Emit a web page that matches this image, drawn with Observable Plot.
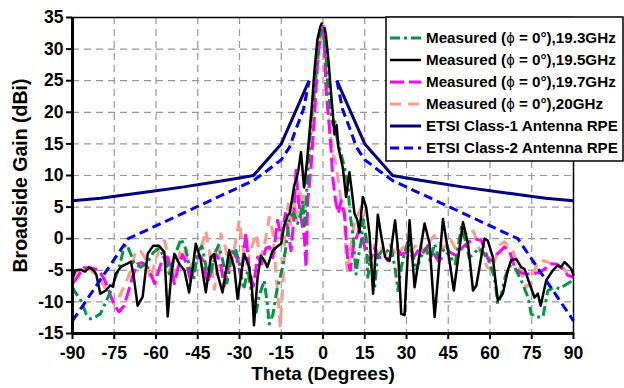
<!DOCTYPE html>
<html>
<head>
<meta charset="utf-8">
<script src="https://cdn.jsdelivr.net/npm/d3@7"></script>
<script src="https://cdn.jsdelivr.net/npm/@observablehq/plot@0.6"></script>
<style>
  body { margin: 0; background: #fff; }
  #chart { position: relative; width: 624px; height: 388px; }
</style>
</head>
<body>
<div id="chart"></div>
<script>
// Axis ticks
const xTicks = [-90, -75, -60, -45, -30, -15, 0, 15, 30, 45, 60, 75, 90];
const yTicks = [-15, -10, -5, 0, 5, 10, 15, 20, 25, 30, 35];

// Measured broadside gain, phi = 0°, 19.5 GHz
const theta195 = [-90,-89,-87,-85.5,-84,-82.5,-81.5,-80,-78,-76.5,
  -75.5,-74.5,-72.5,-70.5,-69,-68,-66.6,-64.8,-63,-61,
  -59,-57,-55.8,-54.6,-53.4,-51.6,-49.8,-48.1,-46.8,-45.7,
  -43.9,-42.1,-40.3,-39.1,-37.9,-36.1,-33.7,-31.9,-30.7,-28.3,
  -26.5,-25.5,-24.8,-23.5,-22.3,-21,-20,-18.1,-16.3,-15,
  -14,-12.7,-12,-11.2,-10.3,-9.5,-8.8,-7.9,-6.8,-5.8,
  -5,-4,-3,-2,-1,-0.3,0.5,1,2,2.9,
  3.5,4.1,4.9,5.5,6.5,7.1,8.3,9.5,10.5,11.3,
  12.3,13.1,14.3,15.5,16.7,18,19.7,20.9,22.3,23.9,
  25.9,26.9,28.1,29.3,31.1,32.9,34.5,36.5,38.3,40.1,
  43.1,44.9,47,50.3,52.1,53.9,55.1,58,59.2,61,
  62.8,64.6,66.4,67.6,69.4,71.2,72.4,74.2,76,77.2,
  78.2,80.2,82.6,84.4,85.5,86.8,88,89.2,90];
const gain195 = [-6.3,-5.0,-4.9,-5.2,-4.5,-5.0,-5.6,-8.7,-8.2,-7.4,
  -7.6,-5.6,-4.4,-4.0,-3.6,-6,-10.6,-9.2,-2.4,-1.1,
  -1.1,-2.1,-12.3,-6.1,-2.4,-4.0,-5.0,-8.5,-4.5,-0.8,
  -3.4,-8.5,-2.9,-2.4,-5.6,-8.5,-1.8,-4.5,-9.5,-2.4,
  -4.5,-8,-13.7,-6.1,-2.7,-3.5,-4.5,-1.9,-1.2,-0.8,
  2.0,3.7,4.0,6.0,8.5,9.5,11,13.7,8.1,12,
  16,21,27,31.5,33.5,34.2,33.5,32.4,28,23,
  20,16.5,18,14.5,12.5,11.3,6.6,10.5,7,4,
  3,1,6.6,5.0,0.8,-8.7,3.8,0.5,-2.9,-3.5,
  2.9,-1.5,-11.9,-12.1,2.9,-7.7,-3,2.4,-0.8,-12.4,
  3.1,-1.9,-8.2,2.6,-0.8,-8.2,-7.4,0,-0.3,-2.9,
  -9.8,-8.7,-5,-3.4,-3.2,-4.5,-4.8,-7.1,-9.3,-8.7,
  -10.6,-6.6,-5,-4.2,-4.5,-3.7,-4.2,-4.8,-5.8];

// 19.3 GHz
const theta193 = [-90,-89,-87,-85,-83.5,-81.5,-80,-78,-76,-75,
  -73.2,-71.5,-70.5,-69,-67.8,-65.5,-63,-61,-59,-57,
  -55.2,-53.5,-51,-49.3,-48,-46.5,-45,-43.5,-42,-40.5,
  -39,-37.5,-36,-34.5,-33,-31.5,-30,-28.5,-27,-25.5,
  -24.1,-23,-21.1,-19.9,-19.3,-18,-16.5,-14.5,-13.3,-12.1,
  -10.5,-9.1,-8,-7.3,-6.7,-5.5,-4.3,-2.5,-1.3,-0.4,
  0.3,0.9,1.7,2.9,3.6,4.3,5,6.5,7.7,8.9,
  9.7,10.7,11.9,12.5,13.7,14.5,15.5,16.1,17,18.5,
  19.5,21,23.3,24.5,26,26.9,28.1,30.5,32,33.5,
  35,37,38.5,40.1,41.5,43,44.5,46,47.5,49.7,
  51,52.5,54,56,58,59.5,61.6,62.8,64,65.5,
  67,68.8,71.2,73.6,74.8,76.6,79,80.8,83.2,85,
  86.8,88.6,90];
const gain193 = [-7.7,-8.5,-9.8,-12,-12.7,-12.3,-11.9,-10,-8,-6.6,
  -4.5,-1.3,-0.9,-2.5,-4.0,-4.5,-3.7,-2.2,-1.5,-2.9,
  -5.6,-3,0,-1.6,-4.5,-6.5,-2,-1.2,-4.5,-6,
  -2.5,-1.0,-3.5,-7,-3,-1.5,-4,-8,-5,-9,
  -11.9,-9.2,-6.6,-10.8,-13.5,-12,-8,-4.5,-1.3,3.4,
  4,2.4,4,6.0,2,10,18.7,26.6,31.9,33.3,
  32,29.8,24.5,19.7,18.0,18.5,16,13.4,11.3,8.7,
  4,0.8,-5.6,-3.4,-0.5,3,0,-6.1,-3,-8,
  -3,-2,-1.9,-1.3,-5,-8.2,-4.5,-0.3,-2,-5,
  -3,-1.5,-3.5,-0.8,-3,-2,-1,-3,-4,1.8,
  0,-3,-2.5,-1.5,-2.4,-3.5,-6.1,-10.3,-9,-6,
  -4.3,-4.5,-6.6,-9.2,-11.9,-12.4,-12.4,-8.2,-7.7,-7.9,
  -7.4,-6.9,-6.6];

// 19.7 GHz
const theta197 = [-90,-88.3,-86,-83.5,-80.5,-78.5,-77,-75,-73.3,-71.5,
  -70,-68.5,-66.7,-65,-63.1,-61.5,-60.5,-59,-57.5,-56,
  -54.5,-53.4,-52,-50.5,-49,-47.5,-46,-44.5,-43,-41.5,
  -40,-38.5,-37,-35.5,-34,-32.5,-31,-29.5,-27.7,-26.5,
  -25,-23.5,-22,-20.5,-19.3,-18,-16.3,-15,-13.5,-12.5,
  -11.5,-10.5,-9.7,-8.8,-7.8,-6.7,-6.1,-5.5,-4.3,-3.1,
  -1.9,-0.7,0,0.5,1.1,2.3,2.9,3.5,4.5,5.5,
  6.5,7.7,8.9,9.8,11,13.1,14.3,15.5,17,18.5,
  20,22,23.5,25,26.5,28,30.5,32.5,34.1,35.5,
  37.7,40,41.5,43.1,45.5,47.9,50.3,52.5,54.5,56.9,
  59.3,61,62.5,65.2,67,68.8,70.6,73,75.4,77.8,
  79.6,82,83.8,86.2,88,90];
const gain197 = [-7.1,-6.1,-4.6,-4.6,-5.0,-6.5,-8.2,-10.5,-11.6,-10.6,
  -8.5,-6.1,-4.0,-3.8,-4.5,-6,-7.1,-5,-3,-2.9,
  -5,-7.1,-4.5,-2.5,-4,-6.8,-4,-2.5,-3.5,-7,
  -5,-2.5,-3.5,-7.5,-4.5,-2,-3,-6,0.8,-5,
  -7.5,-2.9,-4,-1.5,-1.3,-3,2.9,0,4,1,
  -1.9,3,10.8,6,3,0.2,-4.5,6,11.3,19.2,
  28.2,33,33.8,31,23.4,17.6,14,9.7,6,4,
  6,4,-3.5,-5,-1,1.5,0,-2.5,-3.5,-1.5,
  -3,-2.9,-3.5,-2,-1.5,-2.5,-2.1,-3,-1.9,-2.5,
  -1.1,-2.5,-3.5,-2.9,-2.1,-2.7,-1.3,-0.5,0,-0.3,
  -3.2,-3.5,-2.5,-1.3,-1.9,-4.5,-5.3,-5.6,-5.6,-5.3,
  -4.8,-4.0,-4.0,-4.8,-5.8,-6.1];

// 20 GHz
const theta200 = [-90,-88,-86,-84,-82,-80,-78,-76,-75,-73.5,
  -71,-69,-67.3,-65.5,-63.7,-62,-60.5,-58.3,-57,-55.5,
  -54,-52.5,-51,-49.5,-48,-46.5,-45,-43.5,-42.1,-40.5,
  -39,-37.5,-36.7,-35,-33.5,-32,-30.1,-29,-27.5,-26,
  -24.1,-22.5,-21,-19.3,-18,-17,-16,-15.4,-14.5,-13.5,
  -12.5,-11.5,-10.5,-9.5,-8.5,-7.5,-6.5,-5.5,-4.5,-3.5,
  -2.5,-1.5,-0.5,0,0.5,1.1,1.7,2.5,3.5,4.7,
  5.5,6.5,7.7,8.3,8.9,9.8,11,12.3,13.7,14.8,
  16,17.5,18.5,19.7,21,22.5,24,25.5,27,28.5,
  30,31.5,32.9,34.5,36,37.5,39,40.1,41.3,43,
  44.5,46.1,47.5,49,50.5,52,53.3,54.4,56,57.5,
  59,60.5,62,63.5,65.2,66.4,68.2,70,71.8,73,
  74.5,76,77.5,79,80.8,82.6,84.5,86,88,90];
const gain200 = [-6.1,-5,-4.6,-4.8,-5.5,-6.5,-8,-9.5,-10.3,-9.5,
  -7.1,-5,-1.9,-2,-3.2,-6.5,-4,-0.8,-0.3,-3,
  -6,-4,-1.5,-2,-5,-3,-0.5,-1,1.3,-3,
  -8,-3,0.8,-1.5,-5.5,-2,2.9,-1,-4,-2,
  0.8,-3,-1,3.4,1,-5,-10,-13.8,-8,2,
  5.5,2,6,3,8,5,10,12,15,20,
  25,29,32.5,33.2,31,25.5,21.3,17,13.5,11.8,
  9,6,3.4,-3.4,-5.6,-2,2,3.5,5,2,
  -1,-3,-1,-2.4,-1.5,-2.5,-1,-2,-3,-1.5,
  -1,-2,-1.3,-0.5,-2,-1,0,0.5,0.2,-1.5,
  -1,-0.3,-1.5,-0.5,0.5,1,1.6,0.8,-1.5,-3,
  -4.5,-5,-3,-1,-0.5,-1.1,-1.9,-4,-6.1,-7.7,
  -7,-5,-3.5,-3.5,-3.7,-4.2,-4.5,-4.5,-5.5,-6];

// ETSI radiation pattern envelopes (two branches, main beam excluded)
const etsi1Theta = [-90,-80,-70,-60,-50,-40,-30,-25,-15,-5, 5,15,25,30,40,50,60,70,80,90];
const etsi1Gain  = [6,6.4,7,7.6,8.2,8.9,9.6,10,15,25, 25,15,10,9.6,8.9,8.2,7.6,7,6.4,6];
const etsi2Theta = [-90,-70,-25,-20,-15,-12,-10,-7,-5, 5,7,10,12,15,20,25,70,90];
const etsi2Gain  = [-13,0,9.2,10.8,12.5,14.5,17,20.5,25, 25,20.5,17,14.5,12.5,10.8,9.2,0,-13];

const rows = (t, g) => t.map((x, i) => ({theta: x, gain: g[i], side: x < 0 ? "L" : "R"}));

const series = [
  {name: "20", data: rows(theta200, gain200), stroke: "#ff9a90", width: 3, dash: "11,7"},
  {name: "19.7", data: rows(theta197, gain197), stroke: "#ff00ff", width: 3, dash: "14,5"},
  {name: "19.3", data: rows(theta193, gain193), stroke: "#009640", width: 3, dash: "10,4,3,4"},
  {name: "19.5", data: rows(theta195, gain195), stroke: "#000000", width: 2.5, dash: null},
  {name: "c1", data: rows(etsi1Theta, etsi1Gain), stroke: "#000080", width: 3, dash: null},
  {name: "c2", data: rows(etsi2Theta, etsi2Gain), stroke: "#0000ff", width: 3, dash: "9,5"}
];

const font = "'Liberation Sans', Arial, sans-serif";

const plot = Plot.plot({
  width: 624,
  height: 388,
  marginLeft: 72,
  marginRight: 51,
  marginTop: 17,
  marginBottom: 55,
  style: {fontFamily: font, fontWeight: "bold", fontSize: "17px", background: "#fff", overflow: "visible"},
  x: {domain: [-90, 90], label: null},
  y: {domain: [-15, 35], label: null},
  marks: [
    Plot.ruleX(xTicks, {stroke: "#999", strokeWidth: 1.2, strokeDasharray: "7,5"}),
    Plot.ruleY(yTicks, {stroke: "#999", strokeWidth: 1.2, strokeDasharray: "7,5"}),
    ...series.map(s => Plot.line(s.data, {
      x: "theta", y: "gain", z: "side",
      stroke: s.stroke, strokeWidth: s.width,
      strokeDasharray: s.dash ?? undefined,
      strokeLinejoin: "round", strokeLinecap: "butt"
    })),
    Plot.frame({stroke: "#000", strokeWidth: 1.5}),
    Plot.ruleX([-90], {stroke: "#000", strokeWidth: 3}),
    Plot.ruleY([-15], {stroke: "#000", strokeWidth: 3}),
    Plot.axisX(xTicks, {tickSize: 6, tickPadding: 7, tickFormat: d => String(d), fontSize: 17.5, fontWeight: "bold", strokeWidth: 2, label: null}),
    Plot.axisY(yTicks, {tickSize: 6, tickPadding: 3, tickFormat: d => String(d), fontSize: 17.5, fontWeight: "bold", strokeWidth: 2, label: null}),
    Plot.text(["Theta (Degrees)"], {frameAnchor: "bottom", dy: 46, fontSize: 19, fontWeight: "bold", fill: "#000"}),
    Plot.text(["Broadside Gain (dBi)"], {frameAnchor: "left", textAnchor: "middle", dx: -52, rotate: -90, fontSize: 19.5, fontWeight: "bold", fill: "#000"})
  ]
});

document.getElementById("chart").appendChild(plot);

// Legend box overlapping the upper-right corner of the plot
const legendItems = [
  {pre: "Measured (", sym: "\u03d5", post: " = 0°),19.3GHz", s: series[2]},
  {pre: "Measured (", sym: "\u03d5", post: " = 0°),19.5GHz", s: series[3]},
  {pre: "Measured (", sym: "\u03d5", post: " = 0°),19.7GHz", s: series[1]},
  {pre: "Measured (", sym: "\u03d5", post: " = 0°),20GHz", s: series[0]},
  {pre: "ETSI Class-1 Antenna RPE", sym: "", post: "", s: series[4]},
  {pre: "ETSI Class-2 Antenna RPE", sym: "", post: "", s: series[5]}
];

const svg = d3.select(plot);
const lg = svg.append("g").attr("font-family", font).attr("font-weight", "bold")
  .attr("font-size", 15.2).attr("text-anchor", "start");
lg.append("rect").attr("x", 386).attr("y", 17).attr("width", 237).attr("height", 144)
  .attr("fill", "#fff").attr("stroke", "#000").attr("stroke-width", 1.5);
legendItems.forEach((it, i) => {
  const y = 38 + i * 22;
  lg.append("line").attr("x1", 390).attr("x2", 421).attr("y1", y).attr("y2", y)
    .attr("stroke", it.s.stroke).attr("stroke-width", it.s.width)
    .attr("stroke-dasharray", it.s.dash);
  const t = lg.append("text").attr("x", 426).attr("y", y).attr("dy", "0.36em")
    .attr("text-anchor", "start").attr("fill", "#000");
  t.append("tspan").text(it.pre);
  if (it.sym) {
    t.append("tspan").attr("font-weight", "normal").text(it.sym);
    t.append("tspan").text(it.post);
  }
});
</script>
</body>
</html>
